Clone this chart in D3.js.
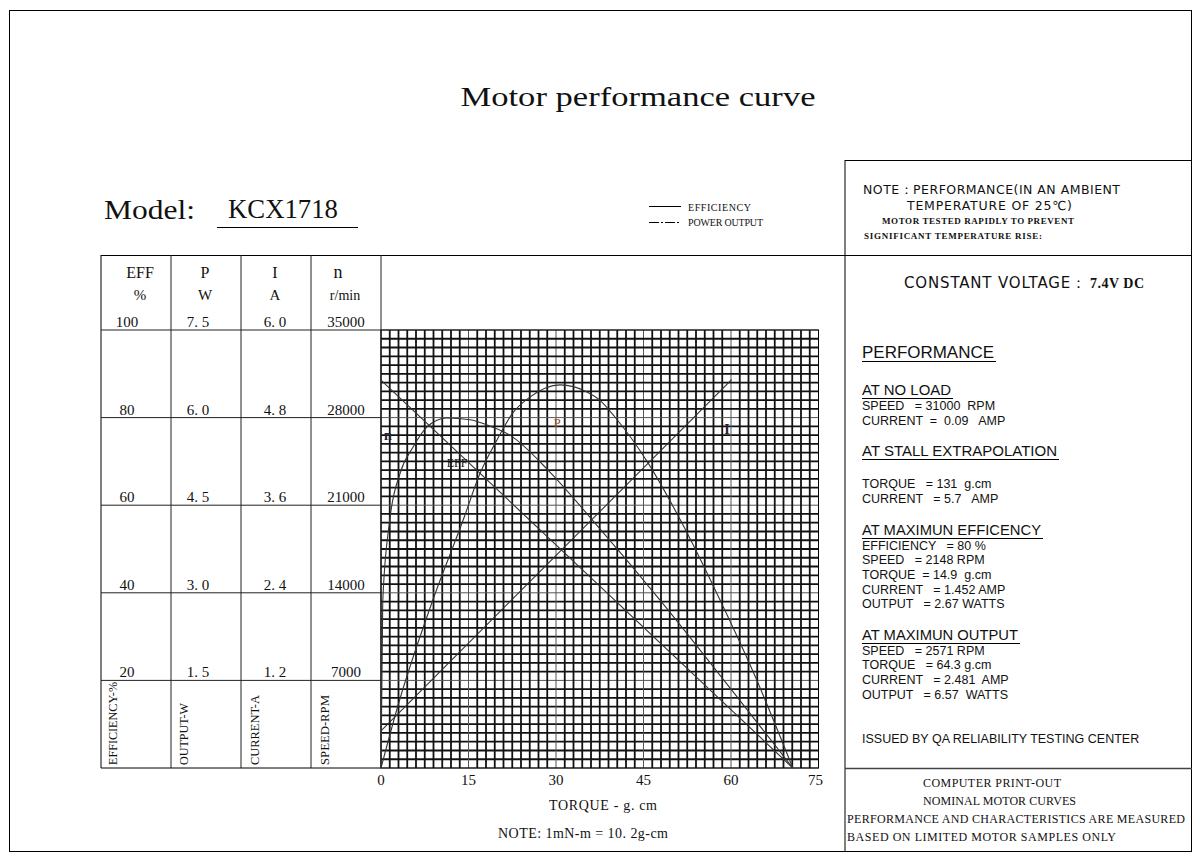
<!DOCTYPE html>
<meta charset="utf-8">
<style>
body { margin: 0; background: #fff; }
svg text { fill: #111; }
.mono { font-family: "Liberation Serif", "DejaVu Serif", serif; }
.sans { font-family: "Liberation Sans", Arial, sans-serif; }
.stroke { font-family: "DejaVu Sans", sans-serif; }
</style>
<svg width="1200" height="856"></svg>
<script src="https://d3js.org/d3.v7.min.js"></script>
<script>

////////// Data //////////////

var torqueTicks = [0, 15, 30, 45, 60, 75];
var effTicks = [100, 80, 60, 40, 20];
var powerTicks = ["7.5", "6.0", "4.5", "3.0", "1.5"];
var currentTicks = ["6.0", "4.8", "3.6", "2.4", "1.2"];
var speedTicks = ["35000", "28000", "21000", "14000", "7000"];

// [torque g.cm, value]
var speedCurve = [[0, 31000], [70.6, 0]];
var currentCurve = [[0, 0.51], [60.1, 5.32]];
var powerCurve = [[0, 0], [3, 1.1], [8.9, 2.88], [14.1, 4.25], [17, 5.05], [19.9, 5.62], [22.6, 6.08],
  [25.5, 6.35], [30.7, 6.56], [35.3, 6.44], [37.5, 6.3], [40.1, 6.01], [45.8, 5.22],
  [51.3, 4.25], [58.1, 2.88], [64, 1.6], [70.6, 0]];
var effCurve = [[0, 0], [0.3, 38], [1.5, 56.6], [3.3, 67.4], [5.5, 73.3], [7.9, 77.9], [11.3, 79.9],
  [15.3, 79.5], [18.2, 78.3], [22.1, 76], [29, 67.5], [35.8, 57.3], [47.8, 38.4], [60, 18], [70.6, 0]];

////////// Scales //////////////

var svg = d3.select("svg");
var x = d3.scaleLinear().domain([0, 75]).range([381, 818.5]);
var yEff = d3.scaleLinear().domain([0, 100]).range([768, 330]);
var yP = d3.scaleLinear().domain([0, 7.5]).range([768, 330]);
var yI = d3.scaleLinear().domain([0, 6]).range([768, 330]);
var yN = d3.scaleLinear().domain([0, 35000]).range([768, 330]);

function line(x1, y1, x2, y2, w, c) {
  return svg.append("line").attr("x1", x1).attr("y1", y1).attr("x2", x2).attr("y2", y2)
    .attr("stroke", c || "#000").attr("stroke-width", w || 1);
}
function txt(xx, yy, s, cls, size, anchor) {
  return svg.append("text").attr("class", cls).attr("x", xx).attr("y", yy)
    .attr("font-size", size).attr("text-anchor", anchor || "start").text(s);
}

////////// Frame //////////////

svg.append("rect").attr("x", 9.5).attr("y", 10.5).attr("width", 1182).attr("height", 841)
  .attr("fill", "none").attr("stroke", "#000");
line(845, 160, 845, 852);
line(845, 160.5, 1192, 160.5);
line(101, 255.5, 1192, 255.5);
line(845, 768.5, 1192, 768.5, 1.5, "#444");

////////// Grid //////////////

var grid = svg.append("g");
d3.range(0, 51).forEach(function(i) {
  var gx = x(i * 1.5), gy = yEff(i * 2);
  var major = i % 10 === 0;
  grid.append("line").attr("x1", gx).attr("x2", gx).attr("y1", 330).attr("y2", 768)
    .attr("stroke", major ? "#555" : "#111").attr("stroke-width", major ? 1 : 1.8);
  grid.append("line").attr("y1", gy).attr("y2", gy).attr("x1", 381).attr("x2", 818.5)
    .attr("stroke", major ? "#555" : "#111").attr("stroke-width", major ? 1 : 1.8);
});
svg.append("rect").attr("x", 381).attr("y", 330).attr("width", 437.5).attr("height", 438)
  .attr("fill", "none").attr("stroke", "#000");

////////// Table //////////////

line(101, 255, 101, 768);
[171, 241, 311, 381].forEach(function(cx) { line(cx, 255, cx, 768, 1, "#222"); });
effTicks.forEach(function(v) { line(101, yEff(v), 381, yEff(v), 1, "#222"); });
line(101, 768, 381, 768);

txt(140, 278, "EFF", "mono", 16, "middle");
txt(140, 300, "%", "mono", 15, "middle");
txt(205, 278, "P", "mono", 16, "middle");
txt(205, 300, "W", "mono", 15, "middle");
txt(275, 278, "I", "mono", 16, "middle");
txt(275, 300, "A", "mono", 15, "middle");
txt(338, 278, "n", "mono", 18, "middle");
txt(345, 300, "r/min", "mono", 14, "middle");

effTicks.forEach(function(v, i) {
  var ty = yEff(v) - 3;
  txt(127, ty, v, "mono", 15, "middle");
  txt(198, ty, powerTicks[i].replace(".", ". "), "mono", 15, "middle");
  txt(275, ty, currentTicks[i].replace(".", ". "), "mono", 15, "middle");
  txt(346, ty, speedTicks[i], "mono", 15, "middle");
});

[["EFFICIENCY-%", 113, 83], ["OUTPUT-W", 184, 62], ["CURRENT-A", 255, 70], ["SPEED-RPM", 325, 70]]
  .forEach(function(d) {
    svg.append("text").attr("class", "mono").attr("font-size", 13)
      .attr("transform", "translate(" + (d[1] + 4) + ",765) rotate(-90)")
      .attr("textLength", d[2]).attr("lengthAdjust", "spacingAndGlyphs")
      .text(d[0]);
  });

////////// X axis //////////////

torqueTicks.forEach(function(t) {
  txt(x(t) - (t === 75 ? 3 : 0), 785, t, "mono", 15, "middle");
});
txt(603, 810, "TORQUE - g. cm", "mono", 14, "middle").attr("textLength", 108);
txt(583, 838, "NOTE: 1mN-m = 10. 2g-cm", "mono", 14, "middle").attr("textLength", 170);

////////// Curves //////////////

var curves = [
  { data: speedCurve, y: yN },
  { data: currentCurve, y: yI },
  { data: powerCurve, y: yP },
  { data: effCurve, y: yEff }
];
curves.forEach(function(c) {
  var gen = d3.line().x(function(d) { return x(d[0]); }).y(function(d) { return c.y(d[1]); })
    .curve(d3.curveMonotoneX);
  svg.append("path").attr("d", gen(c.data)).attr("fill", "none")
    .attr("stroke", "#333").attr("stroke-width", 1.1);
});

txt(388, 440, "n", "mono", 14, "middle").style("fill", "#223").style("font-weight", "bold");
txt(457, 467, "EFF", "mono", 12, "middle");
txt(557, 427, "P", "mono", 13, "middle").style("fill", "#8a4a2a");
txt(727, 434, "I", "mono", 14, "middle").style("fill", "#223").style("font-weight", "bold");

////////// Title + Model + Legend //////////////

txt(638, 106, "Motor performance curve", "mono", 27, "middle")
  .attr("textLength", 355).attr("lengthAdjust", "spacingAndGlyphs");
txt(104, 219, "Model:", "mono", 28).attr("textLength", 91).attr("lengthAdjust", "spacingAndGlyphs");
txt(228, 218, "KCX1718", "mono", 28).attr("textLength", 110).attr("lengthAdjust", "spacingAndGlyphs");
line(217, 227.5, 358, 227.5);

line(649, 206.5, 681, 206.5);
line(649, 222.5, 681, 222.5).attr("stroke-dasharray", "10,2,2,2");
txt(688, 211, "EFFICIENCY", "mono", 10).attr("textLength", 63);
txt(688, 226, "POWER OUTPUT", "mono", 10).attr("textLength", 75);

////////// Right panel //////////////

txt(863, 194, "NOTE\uFF1APERFORMANCE(IN AN AMBIENT", "stroke", 12.5).attr("textLength", 257);
txt(907, 210, "TEMPERATURE OF 25\u2103)", "stroke", 12.5).attr("textLength", 165);
txt(882, 224, "MOTOR TESTED RAPIDLY TO PREVENT", "mono", 9).style("font-weight", "bold").attr("textLength", 192);
txt(864, 239, "SIGNIFICANT TEMPERATURE RISE:", "mono", 9).style("font-weight", "bold").attr("textLength", 178);
txt(904, 288, "CONSTANT VOLTAGE\uFF1A", "stroke", 15).attr("textLength", 182);
txt(1090, 288, "7.4V DC", "mono", 14).style("font-weight", "bold").attr("textLength", 54);

function heading(yy, s, w, size) {
  txt(862, yy, s, "sans", size).attr("textLength", w).attr("lengthAdjust", "spacingAndGlyphs");
  line(862, yy + 3.5, 862 + w + 2, yy + 3.5);
}
heading(358, "PERFORMANCE", 132, 17);
heading(395, "AT NO LOAD", 89, 15);
heading(456, "AT STALL EXTRAPOLATION", 195, 15);
heading(535, "AT MAXIMUN EFFICENCY", 179, 15);
heading(640, "AT MAXIMUN OUTPUT", 156, 15);

var specs = [
  [410, "SPEED   = 31000  RPM"],
  [425, "CURRENT  =  0.09   AMP"],
  [488, "TORQUE   = 131  g.cm"],
  [503, "CURRENT   = 5.7   AMP"],
  [550, "EFFICIENCY   = 80 %"],
  [564, "SPEED   = 2148 RPM"],
  [579, "TORQUE  = 14.9  g.cm"],
  [594, "CURRENT   = 1.452 AMP"],
  [608, "OUTPUT   = 2.67 WATTS"],
  [655, "SPEED   = 2571 RPM"],
  [669, "TORQUE   = 64.3 g.cm"],
  [684, "CURRENT   = 2.481  AMP"],
  [699, "OUTPUT   = 6.57  WATTS"],
  [743, "ISSUED BY QA RELIABILITY TESTING CENTER"]
];
specs.forEach(function(s) {
  txt(862, s[0], s[1], "sans", 12.5).style("white-space", "pre");
});

txt(923, 787, "COMPUTER PRINT-OUT", "mono", 12).attr("textLength", 138);
txt(923, 805, "NOMINAL MOTOR CURVES", "mono", 12).attr("textLength", 153);
txt(847, 823, "PERFORMANCE AND CHARACTERISTICS ARE MEASURED", "mono", 12).attr("textLength", 338);
txt(847, 841, "BASED ON LIMITED MOTOR SAMPLES ONLY", "mono", 12).attr("textLength", 269);

</script>
